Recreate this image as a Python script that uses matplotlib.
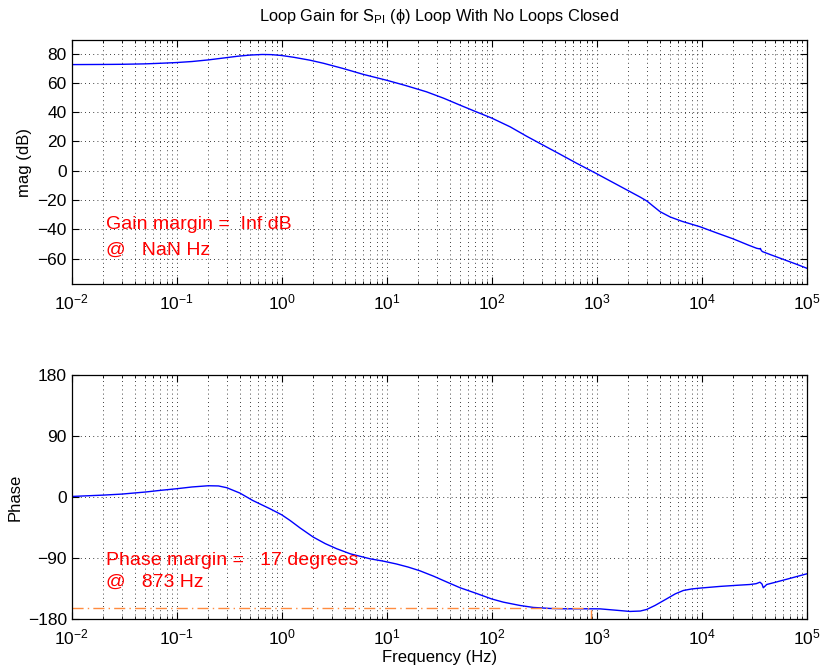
import matplotlib
matplotlib.use('Agg')
import matplotlib.pyplot as plt
import numpy as np

plt.rcParams['font.family'] = ['Liberation Sans', 'DejaVu Sans']
plt.rcParams['mathtext.default'] = 'regular'

# magnitude curve (Hz, dB)
mag_freq = [0.01, 0.02, 0.03, 0.05, 0.07, 0.1, 0.14, 0.2, 0.28, 0.38, 0.5, 0.65, 0.8, 1.0,
            1.3, 1.86, 2.5, 3.86, 6, 10, 15, 24, 35, 50, 70, 100, 150, 215, 300, 448, 650,
            1000, 1340, 2000, 2600, 3000, 3500, 4010, 5000, 6500, 9640, 14000, 20000, 28000,
            33400, 35500, 36200, 37000, 38000, 45000, 60000, 80000, 100000]
mag_db = [72.5, 72.6, 72.7, 73.0, 73.4, 73.9, 74.6, 75.7, 77.0, 78.2, 79.0, 79.4, 79.3, 78.7,
          77.5, 75.5, 73.4, 69.8, 65.8, 61.8, 58.3, 53.9, 49.5, 44.8, 40.5, 36.0, 30.0, 23.6,
          18.0, 11.3, 5.0, -2.0, -6.9, -13.6, -18.0, -20.6, -24.5, -27.9, -31.5, -34.5, -38.2,
          -42.5, -46.5, -50.8, -52.9, -53.3, -53.0, -54.5, -55.2, -57.2, -60.5, -63.8, -66.5]

# phase curve (Hz, deg)
ph_freq = [0.01, 0.02, 0.03, 0.05, 0.07, 0.1, 0.14, 0.2, 0.25, 0.3, 0.4, 0.53, 0.774, 1.0,
           1.2, 1.5, 2.0, 2.6, 3.34, 4.5, 6.93, 9.3, 12.4, 16, 20.7, 28, 37.3, 50, 72, 100,
           129, 186, 249, 360, 500, 748, 1075, 1500, 2075, 2600, 2990, 3600, 4640, 5600,
           6690, 8000, 9640, 15000, 22000, 28800, 33000, 35900, 37500, 38600, 41600, 50000,
           70000, 100000]
ph_deg = [1.0, 3.0, 4.5, 7.5, 10.0, 12.4, 15.0, 16.8, 16.5, 13.9, 6.0, -4.9, -17.1, -26.0,
          -34.3, -45.5, -58.9, -68.5, -76.0, -83.5, -90.8, -94.3, -98.5, -103.0, -108.5,
          -116.5, -125.0, -133.5, -142.0, -150.0, -154.7, -159.6, -162.5, -164.0, -164.5,
          -164.5, -164.6, -166.5, -168.4, -167.8, -165.5, -159.5, -149.8, -142.5, -137.5,
          -135.3, -134.0, -131.5, -129.8, -128.7, -127.5, -125.3, -128.0, -133.5, -128.7,
          -125.5, -119.5, -113.0]

# margins
pm_deg = 17
pm_freq = 873

fig = plt.figure(figsize=(8.21, 6.72), dpi=100)
ax1 = fig.add_axes([0.0873, 0.5769, 0.8953, 0.3636])
ax2 = fig.add_axes([0.0873, 0.0784, 0.8953, 0.3636])

grid_kw = dict(color='k', linestyle=(0, (1, 4)), linewidth=0.6)

for ax in (ax1, ax2):
    ax.set_xscale('log')
    ax.set_xlim(1e-2, 1e5)
    ax.grid(True, which='major', axis='both', **grid_kw)
    ax.grid(True, which='minor', axis='x', **grid_kw)
    ax.tick_params(which='both', direction='in', top=True, right=True, labelsize=12.5)
    ax.tick_params(axis='x', which='major', pad=6)
    ax.tick_params(which='major', length=5, width=0.8)
    ax.tick_params(which='minor', length=2.5, width=0.6)
    for s in ax.spines.values():
        s.set_linewidth(0.9)

ax1.plot(mag_freq, mag_db, color='b', linewidth=1.0)
ax1.set_ylim(-77.5, 89.3)
ax1.set_yticks([80, 60, 40, 20, 0, -20, -40, -60])
ax1.set_ylabel('mag (dB)', fontsize=12)
ax1.set_title('Loop Gain for S$_{PI}$ (\u03d5) Loop With No Loops Closed', fontsize=11.8, pad=14)
ax1.text(0.021, -37, 'Gain margin =  Inf dB', color='#ff0000', fontsize=14, va='center')
ax1.text(0.021, -54, '@   NaN Hz', color='#ff0000', fontsize=14, va='center')

ax2.plot(ph_freq, ph_deg, color='b', linewidth=1.0)
ax2.plot([1e-2, pm_freq, pm_freq], [-180 + pm_deg, -180 + pm_deg, -180],
         color='#ff8c40', linestyle='-.', dashes=(8, 3, 1, 3), linewidth=1.0)
ax2.set_ylim(-180, 180)
ax2.set_yticks([180, 90, 0, -90, -180])
ax2.set_ylabel('Phase', fontsize=12)
ax2.set_xlabel('Frequency (Hz)', fontsize=12, labelpad=2)
ax2.text(0.021, -93, 'Phase margin =   %d degrees' % pm_deg, color='#ff0000', fontsize=14, va='center')
ax2.text(0.021, -126, '@   %d Hz' % pm_freq, color='#ff0000', fontsize=14, va='center')

fig.savefig('out.png', dpi=100)
